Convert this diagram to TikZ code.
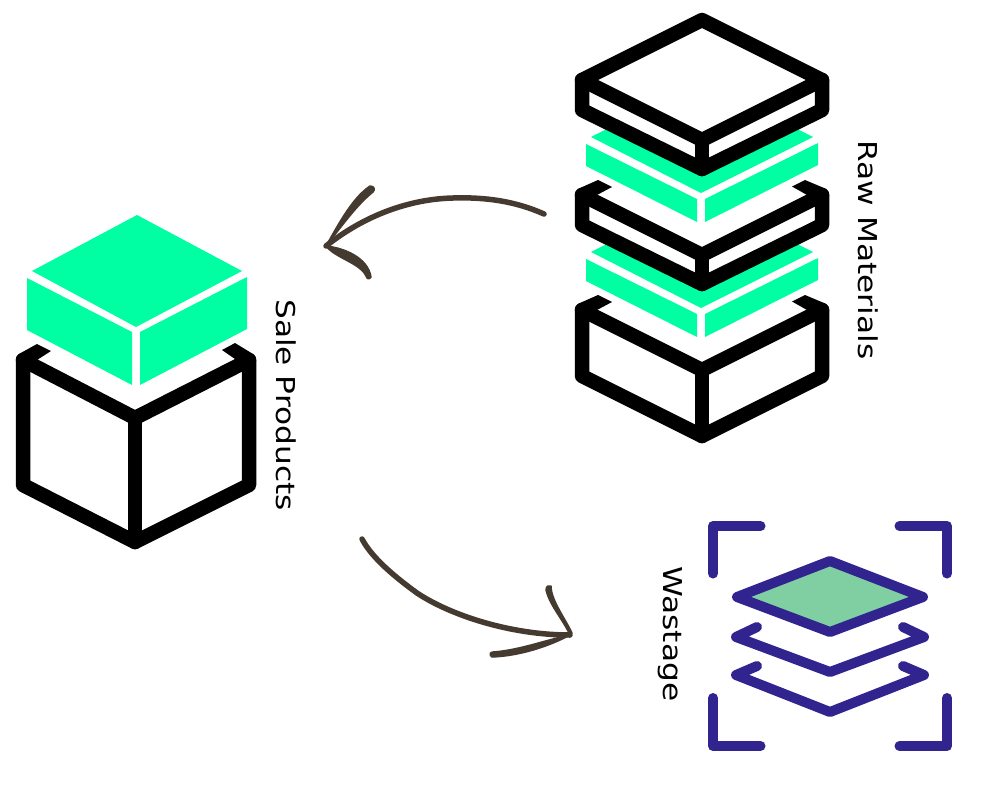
\documentclass[tikz,border=0pt]{standalone}
\usepackage{fontspec}
\setmainfont[FakeStretch=1.2]{DejaVu Sans}
\usepackage{tikz}
\definecolor{mint}{HTML}{00FFA3}
\definecolor{indigo}{HTML}{31248F}
\definecolor{leaf}{HTML}{7FCFA3}
\definecolor{ink}{HTML}{453A30}
\tikzset{every picture/.append style={x=1pt,y=-1pt}}
\tikzset{boxline/.style={line width=14.5pt,line join=round,line cap=round,black}}
\tikzset{boxfill/.style={fill=white,draw=none}}
\tikzset{panel/.style={fill=mint,draw=none}}
\tikzset{frameline/.style={line width=10pt,line join=round,line cap=round,indigo}}
\tikzset{shaft/.style={line width=5.5pt,line cap=round,ink}}
\tikzset{barb/.style={fill=ink,draw=ink,line width=1.5pt,line join=round}}
\tikzset{caption/.style={rotate=-90,anchor=base,inner sep=0pt,font=\fontsize{26}{30}\selectfont}}

\begin{document}
\begin{tikzpicture}
\useasboundingbox (0,0) rectangle (1000,800);

%sale products
\draw[boxline] (23,360) -- (23,485) -- (135,542) -- (249,485) -- (249,360);
\draw[boxline] (23,360) -- (135,418) -- (249,360);
\draw[boxline] (135,418) -- (135,542);
\fill (37,344) -- (51,351) -- (37,360) -- (23,360) -- (19.8,353.5) -- cycle;
\fill (235,343) -- (222,350) -- (235,359) -- (249,360) -- (252.2,353.5) -- cycle;
\fill[panel] (137,215) -- (242,271) -- (136,327) -- (32,271) -- cycle;
\fill[panel] (27,278) -- (132,332) -- (132,385) -- (27,330) -- cycle;
\fill[panel] (140,332) -- (247,277) -- (247,329) -- (140,385) -- cycle;
\node[caption] (salelabel) at (276,405) {Sale Products};

%raw materials, bottom to top
\draw[boxline] (582,310) -- (582,376) -- (702,436) -- (822,376) -- (822,310);
\draw[boxline] (582,310) -- (702,370) -- (822,310);
\draw[boxline] (702,370) -- (702,436);
\fill (598,295) -- (612,302) -- (597,310) -- (582,310) -- (578.8,303.5) -- cycle;
\fill (805,295) -- (792,301.5) -- (807,310) -- (822,310) -- (825.2,303.5) -- cycle;

\fill[panel] (702,196) -- (813,252) -- (701,308) -- (591,252) -- cycle;
\fill[panel] (586,259) -- (697,314) -- (697,337) -- (586,281) -- cycle;
\fill[panel] (705,314) -- (818,258) -- (818,280) -- (705,337) -- cycle;

\fill[boxfill] (702,135) -- (582,195) -- (582,225) -- (702,284) -- (822,225) -- (822,195) -- cycle;
\draw[boxline] (582,195) -- (582,225) -- (702,284) -- (822,225) -- (822,195);
\draw[boxline] (582,195) -- (702,255) -- (822,195);
\draw[boxline] (702,255) -- (702,284);
\fill (598,180) -- (612,187) -- (597,195) -- (582,195) -- (578.8,188.5) -- cycle;
\fill (805,180) -- (792,186.5) -- (807,195) -- (822,195) -- (825.2,188.5) -- cycle;

\fill[panel] (702,81) -- (813,137) -- (701,193) -- (591,137) -- cycle;
\fill[panel] (586,144) -- (697,199) -- (697,222) -- (586,166) -- cycle;
\fill[panel] (705,199) -- (818,143) -- (818,165) -- (705,222) -- cycle;

\fill[boxfill] (702,20) -- (582,80) -- (582,110) -- (702,169) -- (822,110) -- (822,80) -- cycle;
\draw[boxline] (702,20) -- (582,80) -- (582,110) -- (702,169) -- (822,110) -- (822,80) -- cycle;
\draw[boxline] (582,80) -- (702,140) -- (822,80);
\draw[boxline] (702,140) -- (702,169);
\node[caption] (rawlabel) at (858,250) {Raw Materials};

%wastage
\draw[frameline] (713,573.5) -- (713,526) -- (760.5,526);
\draw[frameline] (899.5,526) -- (947,526) -- (947,573.5);
\draw[frameline] (713,698) -- (713,746) -- (760.5,746);
\draw[frameline] (899.5,746) -- (947,746) -- (947,698);
\draw[frameline,fill=leaf] (830,561) -- (923,597) -- (830,632) -- (737,597) -- cycle;
\draw[frameline] (757,627) -- (736,637) -- (830,672) -- (924,637) -- (903,627);
\draw[frameline] (757,666) -- (736,675) -- (830,712) -- (924,675) -- (903,666);
\node[caption] (wastelabel) at (663,634) {Wastage};

%hand drawn arrows
\coordinate (rawout) at (544,214);
\coordinate (saletip) at (326,246);
\coordinate (saleout) at (362,539);
\coordinate (wastetip) at (570,635);
\draw[shaft] (rawout) .. controls (515,201) and (485,197) .. (453,198) .. controls (410,199) and (365,215) .. (saletip);
\draw[barb] (saletip) .. controls (338,225) and (352,198) .. (370,186) .. controls (375,186) and (375,190) .. (373,192) .. controls (357,205) and (345,222) .. cycle;
\draw[barb] (saletip) .. controls (345,248) and (368,258) .. (371,277) .. controls (369,280) and (367,279) .. (366,276) .. controls (360,263) and (335,258) .. cycle;
\draw[shaft] (saleout) .. controls (372,558) and (395,577) .. (417,593) .. controls (450,615) and (510,635) .. (wastetip);
\draw[barb] (wastetip) .. controls (562,618) and (550,606) .. (546,590) .. controls (546,586) and (549,585) .. (551,586) .. controls (551,600) and (565,618) .. (572,633) -- cycle;
\draw[barb] (wastetip) .. controls (550,646) and (520,656) .. (492,657) .. controls (489,655) and (490,652) .. (493,652) .. controls (520,650) and (545,640) .. cycle;
\end{tikzpicture}
\end{document}
